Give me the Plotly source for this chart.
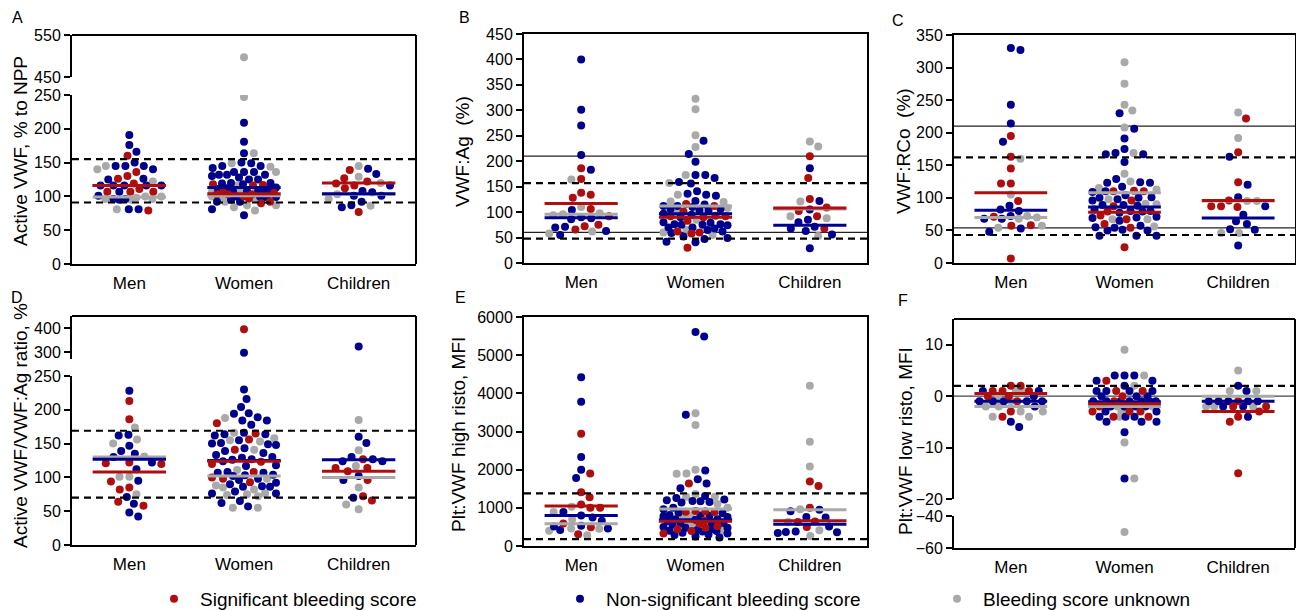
import math
import plotly.graph_objects as go

# ---------------- DATA ----------------
GROUPS = ["Men", "Women", "Children"]
LEGEND_NAMES = ["Significant bleeding score", "Non-significant bleeding score", "Bleeding score unknown"]

# Panel A: Active VWF, % to NPP
A_men_red = [160, 136, 130, 126, 119, 111, 107, 107, 107, 79]
A_men_blue = [191, 176, 166, 150, 145, 145, 145, 140, 125, 126, 116, 116, 116, 116, 116, 107, 101, 96, 95, 96, 81, 81]
A_men_gray = [145, 140, 122, 100, 100, 95, 96, 96, 98, 81]
A_women_red = [118, 117, 116, 106, 105, 103, 103, 103, 100, 92, 90, 97]
A_women_blue = [209, 181, 164, 150, 145, 142, 145, 149, 136, 136, 136, 132, 128, 130, 125, 125, 132, 132, 118, 120,
                119, 120, 108, 108, 112, 111, 108, 103, 100, 99, 99, 100, 92, 92, 81, 72, 113, 110, 106, 95]
A_women_gray = [497, 247, 164, 149, 144, 136, 116, 107, 107, 100, 100, 87, 92, 79, 87, 96, 84]
A_children_red = [139, 127, 122, 119, 112, 116, 77]
A_children_blue = [141, 133, 116, 106, 108, 101, 101, 92, 87, 84]
A_children_gray = [145, 129, 120, 96, 103, 86]
A_med_red = [116, 104, 120]
A_med_blue = [116, 113, 104]
A_med_gray = [99, 101, 103]
A_dashed = [155, 91]
A_solid = []

# Panel B: VWF:Ag (%)
B_men_red = [186, 165, 138, 134, 128, 106, 92, 75, 72, 66]
B_men_blue = [400, 301, 270, 212, 183, 104, 90, 86, 88, 71, 70, 63, 55]
B_men_gray = [164, 110, 94, 98, 96, 62, 58]
B_women_red = [116, 112, 101, 92, 93, 90, 92, 83, 62, 58, 60, 30]
B_women_blue = [240, 214, 199, 167, 173, 173, 159, 156, 141, 136, 134, 132, 122, 115, 112, 110, 112, 103, 106, 103,
                106, 97, 95, 90, 75, 76, 80, 76, 79, 74, 75, 68, 70, 70, 65, 62, 59, 49, 52, 47, 42, 41]
B_women_gray = [323, 302, 251, 228, 173, 157, 134, 120, 121, 100, 65, 60, 55, 108, 85]
B_children_red = [210, 167, 126, 109, 102, 92, 68]
B_children_blue = [186, 122, 105, 80, 85, 71, 68, 63, 56, 29]
B_children_gray = [239, 229, 121, 92, 88, 53]
B_med_red = [117, 90, 108]
B_med_blue = [89, 97, 74]
B_med_gray = [96, 112, 106]
B_dashed = [157, 48]
B_solid = [210, 60]

# Panel C: VWF:RCo (%)
C_men_red = [195, 163, 145, 122, 122, 95, 71, 58, 57, 7]
C_men_blue = [327, 330, 243, 214, 186, 88, 80, 82, 72, 68, 68, 53, 48]
C_men_gray = [160, 105, 72, 70, 68, 54, 57]
C_women_red = [110, 111, 110, 96, 87, 79, 73, 67, 60, 54, 24]
C_women_blue = [230, 206, 191, 175, 169, 167, 167, 155, 129, 124, 123, 123, 117, 110, 109, 104, 101, 96, 100, 98,
                100, 89, 89, 88, 79, 82, 80, 77, 80, 70, 69, 71, 65, 57, 55, 54, 51, 50, 50, 42, 42, 42]
C_women_gray = [308, 275, 234, 243, 208, 169, 137, 125, 115, 113, 98, 90, 91, 67, 67, 56]
C_children_red = [222, 170, 124, 87, 86, 87, 96]
C_children_blue = [163, 120, 101, 87, 74, 64, 60, 52, 51, 27]
C_children_gray = [231, 192, 95, 95, 46, 46]
C_med_red = [108, 78, 96]
C_med_blue = [81, 86, 69]
C_med_gray = [70, 108, 95]
C_dashed = [162, 43]
C_solid = [210, 54]

# Panel D: Active VWF/VWF:Ag ratio, %
D_men_red = [213, 186, 121, 120, 122, 94, 85, 82, 64, 58]
D_men_blue = [228, 163, 162, 147, 139, 135, 130, 122, 112, 95, 71, 61, 42, 48]
D_men_gray = [174, 156, 150, 131, 101, 101, 75]
D_women_red = [395, 180, 165, 156, 141, 123, 120, 100, 93, 98, 108]
D_women_blue = [297, 230, 216, 204, 195, 194, 189, 184, 184, 178, 166, 164, 164, 162, 155, 151, 150, 148, 149, 139,
                143, 136, 133, 130, 129, 126, 127, 124, 117, 118, 107, 107, 104, 102, 103, 96, 98, 92, 90, 86,
                87, 86, 79, 76, 76, 65, 62, 57, 108]
D_women_gray = [188, 166, 158, 155, 153, 141, 111, 98, 85, 88, 82, 76, 74, 72, 75, 55, 55]
D_children_red = [127, 114, 114, 109, 96, 72, 66]
D_children_blue = [323, 160, 151, 124, 130, 124, 127, 102, 96, 70]
D_children_gray = [185, 140, 117, 85, 53, 60]
D_med_red = [108, 124, 109]
D_med_blue = [127, 125, 126]
D_med_gray = [130, 102, 100]
D_dashed = [169, 70]
D_solid = []

# Panel E: Plt:VWF high risto, MFI
E_men_red = [2940, 1900, 1410, 1280, 1090, 1000, 1000, 590, 490, 310]
E_men_blue = [4420, 3780, 2330, 2000, 1780, 890, 800, 660, 750, 510, 530, 460, 420]
E_men_gray = [1030, 890, 700, 460, 400, 450, 280]
E_women_red = [1640, 920, 910, 900, 890, 670, 580, 520, 480, 440, 390, 330]
E_women_blue = [5610, 5490, 3440, 1980, 1750, 1640, 1510, 1310, 1260, 1220, 1180, 1200, 1140, 1170, 1150, 1000,
                960, 870, 860, 810, 800, 790, 760, 780, 700, 690, 650, 700, 600, 600, 560, 590, 500, 480, 480,
                440, 400, 390, 350, 420, 330, 380, 300, 290, 220, 250]
E_women_gray = [3480, 3170, 2000, 1900, 1890, 1360, 1290, 1290, 1100, 1000, 800, 750, 560, 620, 400]
E_children_red = [1690, 1570, 1000, 630, 640, 500]
E_children_blue = [910, 950, 750, 760, 510, 380, 360, 340, 370]
E_children_gray = [4200, 2730, 2080, 960, 630, 410, 260]
E_med_red = [1050, 650, 660]
E_med_blue = [800, 690, 570]
E_med_gray = [580, 970, 950]
E_dashed = [1380, 180]
E_solid = []

# Panel F: Plt:VWF low risto, MFI
F_men_red = [2, 2, 1, 1, 1, 0, 0, -1, -3, -4]
F_men_blue = [1, 1, 0, -1, -1, -1, -1, -1, -2, -5, -6]
F_men_gray = [1, 1, 0, -1, -2, -2, -3, -3, -4, -4]
F_women_red = [3, 1, 1, 0, -1, -2, -3, -3, -3, -4, -4]
F_women_blue = [4, 4, 4, 3, 3, 2, 1, 1, 1, 1, 0, 0, 0, -1, -1, -1, -1, -1, -1, -1, -2, -2, -2, -2, -3, -3,
                -4, -4, -4, -5, -5, -5, -7, -16]
F_women_gray = [9, 4, 2, -2, -2, -3, -4, -9, -16, -50]
F_children_red = [-1, -2, -2, -3, -4, -5, -15]
F_children_blue = [2, 1, -1, -1, -1, -1, -1, -2, -2, -4]
F_children_gray = [5, 1, 1, -2, -2, -2]
F_med_red = [0.5, -1.5, -3]
F_med_blue = [-1, -1.1, -1]
F_med_gray = [-2, -2, 0]
F_dashed = [2]
F_solid = [0]

# ---------------- STYLE / LAYOUT ----------------
W, H = 1296, 610
FONT = "Liberation Sans, Arial, Helvetica, sans-serif"
COL = {"red": "#AE0E0E", "blue": "#00008C", "gray": "#A9A9A9"}
DOT = 8
SPACING = 9.8
MAXW = 32.0
HALF_W = 0.32
NB = "\u00a0"


def fx(px):
    return px / W


def fy(py):
    return 1 - py / H


g = globals()


def panel_values(key):
    return {grp: {c: g[f"{key}_{grp.lower()}_{c}"] for c in ("red", "blue", "gray")} for grp in GROUPS}


# segments: (top_px, bottom_px, lo, hi, tickvals)
PANELS = [
    dict(key="A", x0=72, x1=416, segs=[(95, 264, 0, 250, [0, 50, 100, 150, 200, 250]), (35, 77, 450, 550, [450, 550])],
         title="Active VWF, % to NPP", tpos=(20, 151), letter=(17, 18)),
    dict(key="B", x0=524, x1=867, segs=[(34, 263, 0, 450, list(range(0, 451, 50)))],
         title="VWF:Ag " + NB + "(%)", tpos=(462, 151), letter=(464, 18)),
    dict(key="C", x0=954, x1=1295, segs=[(35, 263, 0, 350, list(range(0, 351, 50)))],
         title="VWF:RCo " + NB + "(%)", tpos=(903, 151), letter=(898, 20)),
    dict(key="D", x0=72, x1=416, segs=[(376, 545, 0, 250, [0, 50, 100, 150, 200, 250]), (316, 359, 271, 450, [300, 400])],
         title="Active VWF/VWF:Ag ratio, %", tpos=(20, 426), letter=(17, 298)),
    dict(key="E", x0=524, x1=867, segs=[(317, 546, 0, 6000, list(range(0, 6001, 1000)))],
         title="Plt:VWF high risto, MFI", tpos=(458, 435), letter=(460, 298)),
    dict(key="F", x0=954, x1=1295, segs=[(516, 548, -60, -40, [-60, -40]), (319, 499, -20, 15, [-20, -10, 0, 10])],
         title="Plt:VWF low risto, MFI", tpos=(905, 441), letter=(903, 300)),
]


def seg_of(v, segs):
    for si, (t, b, lo, hi, _) in enumerate(segs):
        if lo - 1e-9 <= v <= hi + 1e-9:
            return si
    return min(range(len(segs)), key=lambda si: min(abs(v - segs[si][2]), abs(v - segs[si][3])))


def to_px(v, seg):
    t, b, lo, hi, _ = seg
    return b - (v - lo) / (hi - lo) * (b - t)


def swarm(ypx, d, maxw):
    n = len(ypx)
    xs = [0.0] * n
    order = sorted(range(n), key=lambda i: ypx[i])
    placed = []
    side = 1
    for i in order:
        y = ypx[i]
        cands = [0.0]
        for px, py in placed:
            dy = abs(y - py)
            if dy < d:
                dx = math.sqrt(d * d - dy * dy)
                cands += [px + dx, px - dx]
        cands = [c for c in set(round(c, 5) for c in cands) if abs(c) <= maxw]
        cands.sort(key=lambda c: (abs(c), -side * c))
        chosen = None
        for c in cands:
            if all((c - px) ** 2 + (y - py) ** 2 >= d * d - 1e-4 for px, py in placed):
                chosen = c
                break
        if chosen is None:
            best, bestd = 0.0, -1.0
            steps = int(maxw)
            grid = sorted([k * 1.0 for k in range(-steps, steps + 1)], key=lambda c: (abs(c), -side * c))
            for c in grid:
                md = min(((c - px) ** 2 + (y - py) ** 2) for px, py in placed)
                if md > bestd + 1e-6:
                    best, bestd = c, md
            chosen = best
        xs[i] = chosen
        if chosen != 0:
            side = -side
        placed.append((chosen, y))
    return xs


fig = go.Figure()
layout = dict(template="none", width=W, height=H, autosize=False,
              margin=dict(l=0, r=0, t=0, b=0, pad=0, autoexpand=False),
              paper_bgcolor="white", plot_bgcolor="rgba(0,0,0,0)",
              font=dict(family=FONT, size=16, color="black"), showlegend=True)
shapes, annotations = [], []
yi = 0
for pi, P in enumerate(PANELS):
    xn = pi + 1
    xid = "x" if xn == 1 else f"x{xn}"
    segs = P["segs"]
    yids = []
    for s in segs:
        yi += 1
        yids.append("y" if yi == 1 else f"y{yi}")
    broken = len(segs) > 1
    pxcat = (P["x1"] - P["x0"]) / 3.0

    layout["xaxis" if xn == 1 else f"xaxis{xn}"] = dict(
        domain=[fx(P["x0"]), fx(P["x1"])], range=[-0.5, 2.5], anchor=yids[0], automargin=False,
        tickmode="array", tickvals=[0, 1, 2], ticktext=GROUPS, ticks="outside", ticklen=3,
        tickcolor="rgba(0,0,0,0)", tickfont=dict(size=17), showline=True, linewidth=2, linecolor="black",
        mirror=(not broken), showgrid=False, zeroline=False, fixedrange=True)
    for s, yid in zip(segs, yids):
        t, b, lo, hi, tv = s
        layout["yaxis" if yid == "y" else "yaxis" + yid[1:]] = dict(
            domain=[fy(b), fy(t)], range=[lo, hi], anchor=xid, tickmode="array", tickvals=tv,
            ticks="outside", ticklen=6, tickwidth=2, tickcolor="black", tickfont=dict(size=16),
            showline=True, linewidth=2, linecolor="black", mirror=(not broken), automargin=False,
            showgrid=False, zeroline=False, fixedrange=True)
    if broken:
        top = min(s[0] for s in segs)
        bot = max(s[1] for s in segs)
        shapes.append(dict(type="line", xref="paper", yref="paper", x0=fx(P["x0"]), x1=fx(P["x1"]),
                           y0=fy(top), y1=fy(top), line=dict(color="black", width=2)))
        shapes.append(dict(type="line", xref="paper", yref="paper", x0=fx(P["x1"]), x1=fx(P["x1"]),
                           y0=fy(top), y1=fy(bot), line=dict(color="black", width=2)))

    # points
    vals = panel_values(P["key"])
    pts = {c: {si: ([], []) for si in range(len(segs))} for c in ("gray", "blue", "red")}
    for gi, grp in enumerate(GROUPS):
        allv, allc = [], []
        for c in ("red", "blue", "gray"):
            allv += vals[grp][c]
            allc += [c] * len(vals[grp][c])
        sidx = [seg_of(v, segs) for v in allv]
        ypx = [to_px(v, segs[si]) for v, si in zip(allv, sidx)]
        xo = swarm(ypx, SPACING, MAXW)
        for v, c, si, o in zip(allv, allc, sidx, xo):
            pts[c][si][0].append(gi + o / pxcat)
            pts[c][si][1].append(v)
    for c in ("gray", "blue", "red"):
        for si in range(len(segs)):
            xs, ys = pts[c][si]
            if not xs:
                continue
            lg = (P["key"] == "B")
            li = {"red": 0, "blue": 1, "gray": 2}[c]
            fig.add_trace(go.Scatter(
                x=xs, y=ys, xaxis=xid, yaxis=yids[si], mode="markers",
                marker=dict(color=COL[c], size=DOT, line=dict(width=0)),
                name=LEGEND_NAMES[li], showlegend=lg,
                legend=["legend", "legend2", "legend3"][li], hoverinfo="y"))

    # reference lines
    for v in g[f"{P['key']}_dashed"]:
        si = seg_of(v, segs)
        shapes.append(dict(type="line", xref=xid, yref=yids[si], x0=-0.5, x1=2.5, y0=v, y1=v,
                           line=dict(color="black", width=2.2, dash="7px,5px"), layer="above"))
    for v in g[f"{P['key']}_solid"]:
        si = seg_of(v, segs)
        shapes.append(dict(type="line", xref=xid, yref=yids[si], x0=-0.5, x1=2.5, y0=v, y1=v,
                           line=dict(color="#222222" if P["key"] != "F" else "#444444", width=1.3),
                           layer="below"))

    # median lines
    for c in ("gray", "blue", "red"):
        meds = g[f"{P['key']}_med_{c}"]
        for si in range(len(segs)):
            mx, my = [], []
            for gi, m in enumerate(meds):
                if seg_of(m, segs) == si:
                    mx += [gi - HALF_W, gi + HALF_W, None]
                    my += [m, m, None]
            if mx:
                fig.add_trace(go.Scatter(x=mx, y=my, xaxis=xid, yaxis=yids[si], mode="lines",
                                         line=dict(color=COL[c], width=3), showlegend=False,
                                         hoverinfo="skip"))

    annotations.append(dict(text=P["title"], x=fx(P["tpos"][0]), y=fy(P["tpos"][1]), xref="paper",
                            yref="paper", showarrow=False, textangle=-90, font=dict(size=19),
                            xanchor="center", yanchor="middle"))
    annotations.append(dict(text=P["key"], x=fx(P["letter"][0]), y=fy(P["letter"][1]), xref="paper",
                            yref="paper", showarrow=False, font=dict(size=16),
                            xanchor="center", yanchor="middle"))

leg_common = dict(orientation="h", yanchor="middle", xanchor="left", y=fy(599),
                  font=dict(size=19), bgcolor="rgba(0,0,0,0)", borderwidth=0, itemsizing="trace",
                  itemwidth=42)
layout["legend"] = dict(leg_common, x=fx(148))
layout["legend2"] = dict(leg_common, x=fx(554))
layout["legend3"] = dict(leg_common, x=fx(931))
layout["shapes"] = shapes
layout["annotations"] = annotations
fig.update_layout(**layout)
fig.write_html("out.html", config={"displayModeBar": False},
               post_script="document.body.style.margin='0';document.body.style.padding='0';"
                           "document.documentElement.style.overflow='hidden';")
